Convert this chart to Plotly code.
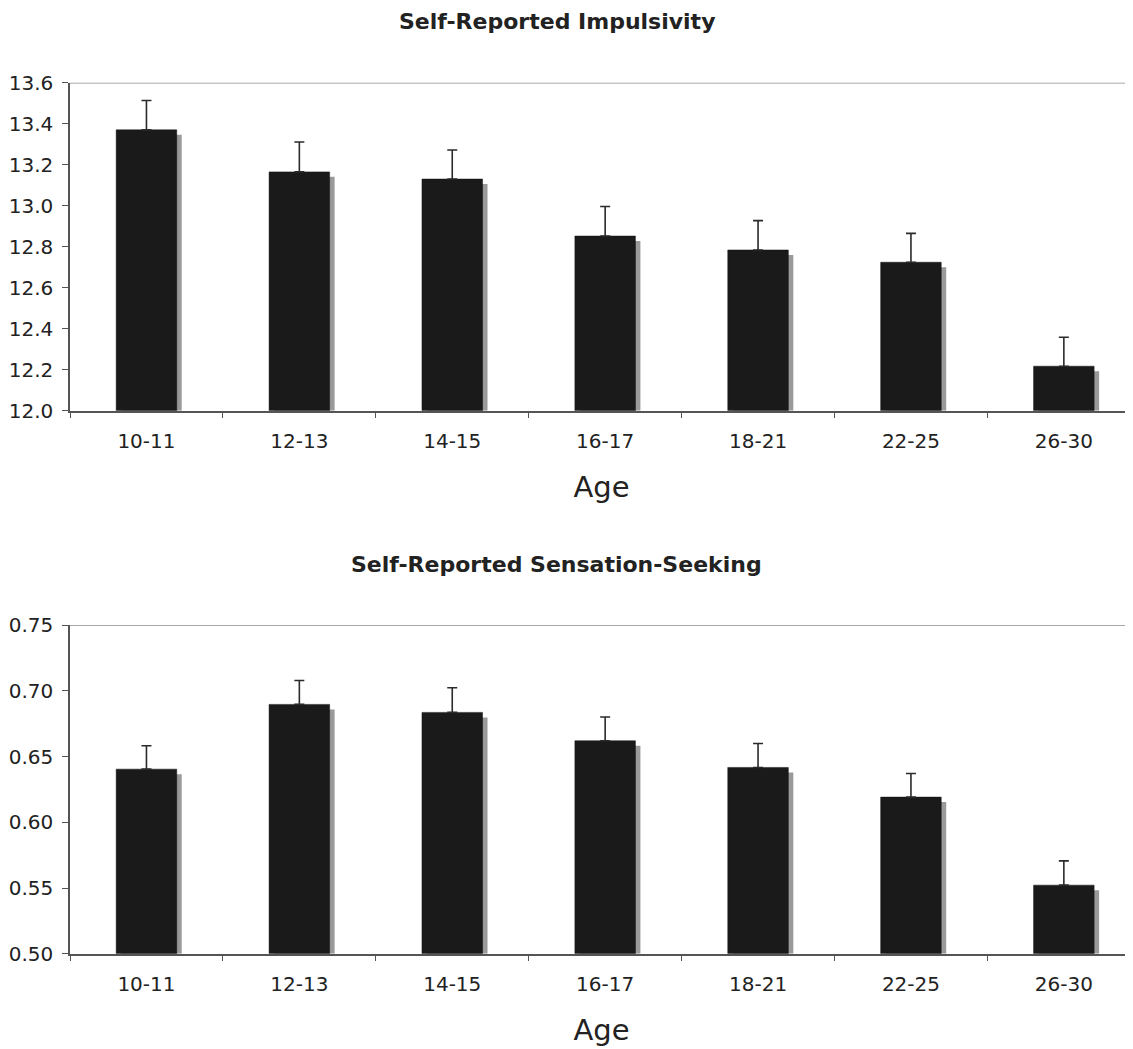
import plotly.graph_objects as go

ages = ["10-11", "12-13", "14-15", "16-17", "18-21", "22-25", "26-30"]
impulsivity = [13.37, 13.165, 13.13, 12.852, 12.784, 12.724, 12.217]
impulsivity_se = [0.143, 0.146, 0.142, 0.144, 0.143, 0.141, 0.141]
sensation = [0.6405, 0.6898, 0.6837, 0.6621, 0.6418, 0.6192, 0.5522]
sensation_se = [0.0178, 0.0182, 0.0188, 0.0181, 0.0182, 0.018, 0.0185]

y1_ticks = [12.0, 12.2, 12.4, 12.6, 12.8, 13.0, 13.2, 13.4, 13.6]
y2_ticks = [0.50, 0.55, 0.60, 0.65, 0.70, 0.75]

# page body has an 8px margin: lay out in page pixels, convert to figure space
PAD = 8
PAGE_W, PAGE_H = 1133, 1049
W, H = PAGE_W - PAD, PAGE_H - PAD

def px(x):
    return (x - PAD) / W

def py(y):
    return 1 - (y - PAD) / H

FONT = "DejaVu Sans"
BAR_W = 0.396
X0, XCAT = 70, 152.9          # left edge of plot area (page px), px per category
xr = [-0.5, 6.5 - (X0 + 7 * XCAT - PAGE_W) / XCAT]
dom1 = [py(410.7), py(82.7)]
dom2 = [py(953.7), py(625.3)]
r1 = [12.0, 13.6]
r2 = [0.50, 0.75]

fig = go.Figure()

def add_panel(vals, errs, rng, dom, xa, ya):
    plot_h = (dom[1] - dom[0]) * H
    dy = 5 * (rng[1] - rng[0]) / plot_h
    dx = 5 / XCAT
    fig.add_trace(go.Bar(x=ages, y=[v - dy - rng[0] for v in vals], base=rng[0],
                         offset=-BAR_W / 2 + dx, width=BAR_W,
                         marker=dict(color="#9a9a9a", line_width=0),
                         xaxis=xa, yaxis=ya, showlegend=False, hoverinfo="skip"))
    fig.add_trace(go.Bar(x=ages, y=[v - rng[0] for v in vals], base=rng[0],
                         offset=-BAR_W / 2, width=BAR_W,
                         marker=dict(color="#1b1a1a", line=dict(color="#111", width=0.5)),
                         error_y=dict(type="data", symmetric=False, array=errs,
                                      arrayminus=[0] * len(errs), color="#2a2a2a",
                                      thickness=1.6, width=5),
                         xaxis=xa, yaxis=ya, showlegend=False))

add_panel(impulsivity, impulsivity_se, r1, dom1, "x", "y")
add_panel(sensation, sensation_se, r2, dom2, "x2", "y2")

xcommon = dict(type="category", range=xr, domain=[px(X0), 1], showgrid=False,
               showline=True, linecolor="#555", linewidth=1.5, ticks="outside",
               tickson="boundaries", ticklen=6, tickcolor="#555", tickwidth=1.2,
               tickfont=dict(family=FONT, size=20, color="#222"), automargin=False,
               ticklabelstandoff=12, zeroline=False,
               title=dict(text="Age", font=dict(family=FONT, size=29, color="#222"),
                          standoff=24))
ycommon = dict(showgrid=False, showline=True, linecolor="#555", linewidth=1.5,
               ticks="outside", ticklen=6, tickcolor="#555", tickwidth=1.2,
               tickfont=dict(family=FONT, size=20, color="#222"), automargin=False,
               zeroline=False, ticklabelstandoff=5)

fig.update_layout(
    width=W, height=H, margin=dict(l=0, r=0, t=0, b=0),
    plot_bgcolor="white", paper_bgcolor="white", barmode="overlay",
    xaxis=dict(xcommon, anchor="y"),
    xaxis2=dict(xcommon, anchor="y2"),
    yaxis=dict(ycommon, domain=dom1, range=r1, tickvals=y1_ticks,
               ticktext=[f"{v:.1f}" for v in y1_ticks], anchor="x"),
    yaxis2=dict(ycommon, domain=dom2, range=r2, tickvals=y2_ticks,
                ticktext=[f"{v:.2f}" for v in y2_ticks], anchor="x2"),
    shapes=[
        dict(type="line", xref="x domain", yref="y", x0=0, x1=1, y0=r1[1], y1=r1[1],
             line=dict(color="#8a8a8a", width=1.5)),
        dict(type="line", xref="x2 domain", yref="y2", x0=0, x1=1, y0=r2[1], y1=r2[1],
             line=dict(color="#8a8a8a", width=1.5)),
    ],
    annotations=[
        dict(text="<b>Self-Reported Impulsivity</b>", xref="paper", yref="paper",
             x=px(557), y=py(8.5), xanchor="center", yanchor="top", showarrow=False,
             borderpad=0, font=dict(family=FONT, size=22, color="#222")),
        dict(text="<b>Self-Reported Sensation-Seeking</b>", xref="paper", yref="paper",
             x=px(556), y=py(564), xanchor="center", yanchor="middle", showarrow=False,
             font=dict(family=FONT, size=22, color="#222")),
    ],
)

fig.write_html("out.html")
